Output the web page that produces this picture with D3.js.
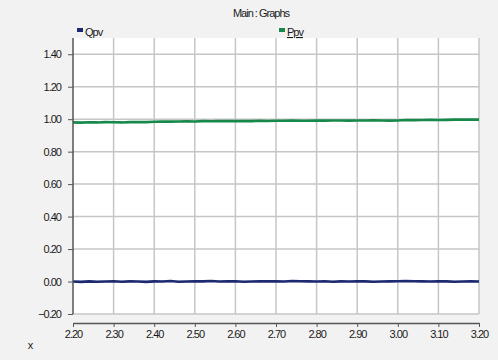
<!DOCTYPE html>
<html><head><meta charset="utf-8">
<script src="https://cdn.jsdelivr.net/npm/d3@7"></script>
<style>
html,body{margin:0;padding:0;background:#f2f2f2;}
text{font-family:"Liberation Sans",Arial,sans-serif;font-size:11px;letter-spacing:-1px;fill:#1a1a1a;}
</style></head>
<body>
<svg id="c" width="498" height="360"></svg>
<script>
const title = "Main : Graphs";
const seriesNames = ["Qpv", "Ppv"];
const seriesColors = ["#1c2a72", "#15884a"];
const xTicks = [2.2,2.3,2.4,2.5,2.6,2.7,2.8,2.9,3.0,3.1,3.2];
const yTicks = [-0.2,0,0.2,0.4,0.6,0.8,1.0,1.2,1.4];
const xs = [2.20,2.22,2.24,2.26,2.28,2.30,2.32,2.34,2.36,2.38,2.40,2.42,2.44,2.46,2.48,2.50,2.52,2.54,2.56,2.58,2.60,2.62,2.64,2.66,2.68,2.70,2.72,2.74,2.76,2.78,2.80,2.82,2.84,2.86,2.88,2.90,2.92,2.94,2.96,2.98,3.00,3.02,3.04,3.06,3.08,3.10,3.12,3.14,3.16,3.18,3.20];
const ppv = [0.980,0.979,0.981,0.980,0.982,0.981,0.980,0.982,0.983,0.982,0.984,0.986,0.985,0.986,0.987,0.986,0.988,0.987,0.989,0.988,0.988,0.989,0.988,0.990,0.989,0.990,0.990,0.991,0.990,0.990,0.992,0.991,0.992,0.992,0.991,0.992,0.992,0.993,0.992,0.991,0.992,0.995,0.994,0.995,0.996,0.995,0.996,0.997,0.998,0.997,0.997];
const qpv = [0.000,-0.002,0.001,-0.001,0.000,0.002,-0.001,0.001,0.000,-0.002,0.001,0.000,0.003,-0.001,0.000,0.002,0.001,0.003,0.000,0.001,0.002,-0.001,0.000,0.001,0.002,0.001,0.000,0.003,0.002,0.001,0.000,0.002,-0.001,0.001,0.000,0.002,0.001,-0.001,0.000,0.001,0.002,0.003,0.002,0.001,0.000,0.002,0.001,-0.001,0.000,0.001,0.000];

const svg = d3.select("#c");
const L = 73, R = 479, T = 38, B = 314;
const x = d3.scaleLinear().domain([2.2,3.2]).range([L,R]);
const y = d3.scaleLinear().domain([-0.2,1.5]).range([B,T]);

svg.append("rect").attr("x",L).attr("y",T).attr("width",R-L).attr("height",B-T).attr("fill","#fff");
// grid
svg.append("g").selectAll("line").data(xTicks.slice(1)).join("line")
  .attr("x1",d=>x(d)).attr("x2",d=>x(d)).attr("y1",T).attr("y2",B)
  .attr("stroke","#c6c6c6").attr("stroke-width",1.5);
svg.append("g").selectAll("line").data(yTicks).join("line")
  .attr("x1",L).attr("x2",R).attr("y1",d=>y(d)).attr("y2",d=>y(d))
  .attr("stroke","#c6c6c6").attr("stroke-width",1.5);

// lines
const series = [qpv, ppv];
const line = d3.line().x((d,i)=>x(xs[i])).y(d=>y(d));
series.forEach((s,k)=>{
  svg.append("path").datum(s).attr("d",line).attr("fill","none")
    .attr("stroke",seriesColors[k]).attr("stroke-width",2.6);
});

// y axis
const ya = svg.append("g").attr("transform",`translate(${L},0)`)
  .call(d3.axisLeft(y).tickValues(yTicks).tickFormat(d3.format(".2f")).tickSize(5).tickSizeOuter(0));
ya.select(".domain").attr("d",`M0,${T}V${B}`).attr("stroke","#555").attr("stroke-width",1.5);
ya.selectAll(".tick line").attr("stroke","#555");
ya.selectAll("text").attr("x",-12);
ya.attr("font-family",null).attr("font-size",null);

// x axis
const xa = svg.append("g").attr("transform",`translate(0,323)`)
  .call(d3.axisBottom(x).tickValues(xTicks).tickFormat(d3.format(".2f")).tickSize(4).tickSizeOuter(0));
xa.select(".domain").attr("stroke","#555").attr("stroke-width",1.5);
xa.selectAll(".tick line").attr("stroke","#555");
xa.selectAll("text").attr("y",7);
xa.attr("font-family",null).attr("font-size",null);

svg.append("text").attr("x",30).attr("y",349).attr("text-anchor","middle").text("x");
svg.append("text").attr("x",261).attr("y",17).attr("text-anchor","middle").text(title);

// legend
const legX = [77, 279];
seriesNames.forEach((n,k)=>{
  svg.append("rect").attr("x",legX[k]).attr("y",28).attr("width",6).attr("height",4).attr("fill",seriesColors[k]);
  const t = svg.append("text").attr("x",legX[k]+8).attr("y",36).text(n);
  if (k===1) t.style("text-decoration","underline");
});
</script>
</body></html>
